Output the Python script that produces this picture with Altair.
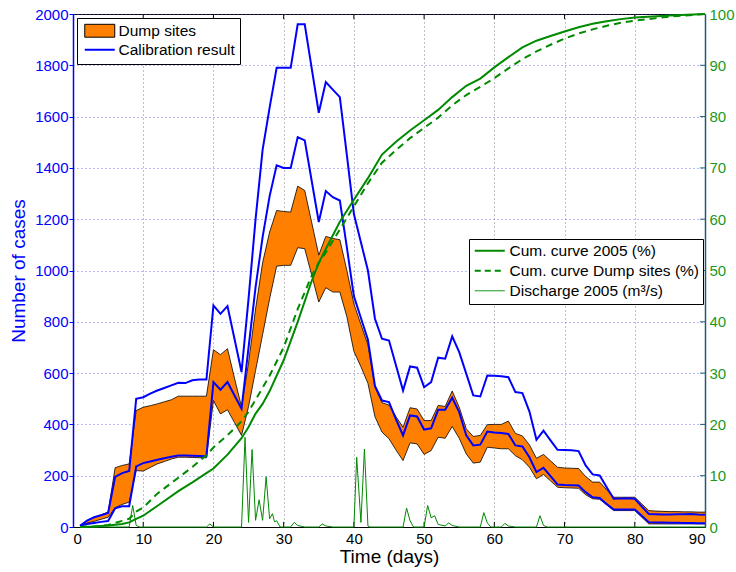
import altair as alt
import pandas as pd

# ---- daily case counts ----------------------------------------------------
days = list(range(1, 91))

calib_upper = [5, 25, 38, 46, 55, 195, 210, 218, 500, 506,
               520, 532, 542, 552, 562, 561, 572, 575, 575, 864,
               831, 861, 733, 604, 890, 1200, 1470, 1635, 1790, 1790,
               1790, 1960, 1960, 1787, 1615, 1735, 1705, 1676, 1450, 1220,
               1110, 1000, 812, 734, 727, 630, 532, 626, 621, 545,
               565, 660, 656, 743, 682, 598, 513, 509, 591, 590,
               588, 584, 526, 522, 450, 340, 376, 338, 301, 300,
               299, 296, 240, 205, 201, 155, 110, 111, 112, 110,
               80, 51, 50, 49, 49, 50, 50, 51, 49, 48]

calib_lower = [5, 12, 16, 20, 23, 73, 81, 81, 236, 249,
               255, 262, 268, 274, 279, 279, 278, 277, 276, 565,
               535, 565, 513, 461, 700, 935, 1130, 1290, 1410, 1400,
               1400, 1520, 1507, 1348, 1189, 1310, 1286, 1273, 1090, 900,
               815, 730, 550, 493, 487, 420, 357, 435, 431, 380,
               385, 457, 457, 504, 448, 357, 318, 321, 372, 368,
               366, 363, 318, 314, 272, 214, 231, 198, 166, 164,
               163, 162, 136, 116, 113, 90, 68, 68, 68, 68,
               44, 19, 18, 18, 17, 17, 16, 16, 15, 15]

dump_upper = [5, 25, 38, 48, 58, 231, 240, 246, 454, 467,
              473, 480, 488, 496, 510, 510, 510, 510, 510, 691,
              672, 695, 580, 468, 640, 850, 1030, 1150, 1234, 1230,
              1228, 1329, 1312, 1186, 1060, 1133, 1125, 1120, 1000, 870,
              790, 710, 545, 485, 475, 430, 389, 465, 460, 415,
              415, 474, 470, 530, 467, 383, 353, 357, 399, 400,
              400, 413, 365, 355, 320, 268, 283, 258, 233, 230,
              229, 228, 197, 175, 175, 145, 116, 116, 116, 116,
              90, 64, 62, 61, 60, 60, 59, 59, 58, 58]

dump_lower = [5, 15, 22, 30, 38, 75, 88, 97, 220, 218,
              232, 246, 255, 265, 272, 272, 271, 270, 270, 493,
              441, 457, 407, 357, 470, 610, 750, 890, 1017, 1020,
              1020, 1089, 1085, 981, 877, 933, 916, 916, 820, 685,
              625, 560, 430, 370, 344, 300, 259, 328, 324, 283,
              298, 350, 346, 392, 346, 285, 249, 253, 311, 308,
              305, 305, 278, 262, 233, 188, 205, 180, 155, 153,
              152, 151, 126, 110, 108, 86, 64, 64, 64, 64,
              38, 12, 12, 12, 12, 12, 12, 12, 12, 12]

# ---- cumulative curves (%) --------------------------------------------------
cum05_days = [1, 3, 5, 7, 8, 9, 10, 12, 15, 17, 19, 20, 22, 24, 25, 26, 27, 28,
              30, 32, 34, 35, 36, 38, 40, 42, 44, 46, 48, 50, 52, 54, 56, 58,
              60, 62, 64, 66, 68, 70, 72, 74, 76, 78, 80, 85, 90]
cum05_pct = [0, 0.1, 0.3, 0.6, 0.9, 1.6, 2.2, 4.1, 7.0, 8.7, 10.5, 11.4, 14.1,
             17.3, 19.5, 22.1, 24.0, 26.5, 32.5, 40.0, 48.0, 51.5, 54.2, 59.5,
             63.8, 68.0, 72.6, 75.1, 77.3, 79.3, 81.3, 83.8, 86.0, 87.4, 89.6,
             91.6, 93.5, 94.8, 95.7, 96.6, 97.4, 98.1, 98.6, 99.0, 99.3, 99.7, 100]

cumdump_days = [1, 3, 5, 6, 7, 8, 9, 10, 12, 15, 17, 19, 20, 22, 24, 25, 26, 28,
                30, 32, 34, 35, 36, 38, 40, 42, 44, 46, 48, 50, 52, 54, 56, 58,
                60, 62, 64, 66, 68, 70, 72, 74, 76, 78, 80, 85, 90]
cumdump_pct = [0, 0.1, 0.4, 0.8, 1.2, 1.6, 3.0, 3.8, 6.5, 9.6, 11.7, 14.0, 15.5,
               17.9, 20.6, 22.5, 24.8, 29.5, 35.0, 42.5, 49.0, 51.5, 53.5, 58.0,
               62.5, 67.0, 71.0, 73.5, 75.8, 77.8, 79.8, 82.2, 84.2, 85.8, 87.5,
               89.4, 91.2, 92.7, 94.0, 95.2, 96.2, 97.0, 97.7, 98.3, 98.7, 99.5, 100]

# ---- river discharge (m3/s) -------------------------------------------------
q_days = [1, 8, 8.5, 9, 9.5, 19, 19.5, 20, 24, 24.5, 25, 25.5, 26, 26.5, 27,
          27.5, 28, 28.4, 28.7, 29, 29.5, 31, 31.5, 32, 33, 35, 35.5, 36, 37,
          40, 40.4, 41, 41.5, 42, 42.3, 47, 47.5, 48, 48.5, 50, 50.5, 51,
          51.5, 52, 53, 53.5, 54, 55, 58, 58.5, 59, 59.5, 61, 61.5, 62, 63,
          66, 66.5, 67, 67.5, 90]
q_vals = [0, 0, 4.2, 0.3, 0, 0, 0.6, 0, 0, 17.5, 0.9, 15.1, 1.3, 5.3, 1.3,
          9.8, 1.6, 2.6, 1.0, 1.2, 0, 0, 0.9, 0.3, 0, 0, 0.6, 0.2, 0,
          0, 13.6, 0.9, 15.2, 0.2, 0, 0, 3.7, 1.2, 0, 0, 4.2, 1.8,
          2.2, 0.5, 0.2, 0.8, 0.3, 0, 0, 2.8, 0.8, 0, 0, 0.7, 0.2, 0,
          0, 2.2, 0.3, 0, 0]

x_ticks = [10, 20, 30, 40, 50, 60, 70, 80]
pct_ticks = [10, 20, 30, 40, 50, 60, 70, 80, 90]

left_names = ["Dump sites", "Calibration result"]
right_names = ["Cum. curve 2005 (%)", "Cum. curve Dump sites (%)",
               "Discharge 2005 (m³/s)"]

FONT = "Liberation Sans"
BLUE = "#0000ff"
ORANGE = "#ff8000"
GREEN = "#008a00"
GREEN_TXT = "#1a9a1a"
TEAL = "#1f5c73"

# ---- tables -----------------------------------------------------------------
band = pd.DataFrame({"day": days, "hi": dump_upper, "lo": dump_lower})
edges = pd.DataFrame({"day": days + days,
                      "cases": dump_upper + dump_lower,
                      "edge": ["upper"] * 90 + ["lower"] * 90})
calib = pd.DataFrame({"day": days + days,
                      "cases": calib_upper + calib_lower,
                      "bound": ["upper"] * 90 + ["lower"] * 90})
cum05 = pd.DataFrame({"day": cum05_days, "pct": cum05_pct})
cumdump = pd.DataFrame({"day": cumdump_days, "pct": cumdump_pct})
flow = pd.DataFrame({"day": q_days, "pct": q_vals})
xt = pd.DataFrame({"d": x_ticks, "a": 0, "b": 20, "c": 2000, "e": 1980})
pt = pd.DataFrame({"v": pct_ticks, "a": 89.3, "b": 90})
# legend keys only: no rows, the legends come from the colour scale domains
key_left = pd.DataFrame({"day": pd.Series([], dtype=float),
                         "cases": pd.Series([], dtype=float),
                         "series": pd.Series([], dtype=str)})
key_right = pd.DataFrame({"day": pd.Series([], dtype=float),
                          "pct": pd.Series([], dtype=float),
                          "series": pd.Series([], dtype=str)})

# ---- scales / axes ------------------------------------------------------------
x_axis = alt.Axis(values=list(range(0, 91, 10)), title="Time (days)",
                  labelFont=FONT, labelFontSize=15, labelColor="black",
                  labelPadding=4, titleFont=FONT, titleFontSize=19,
                  titleFontWeight="normal", titleColor="black", titlePadding=1,
                  ticks=False, domainColor="black", domainWidth=1,
                  grid=True, gridColor="#808080", gridDash=[1, 3], gridWidth=1)
x_scale = alt.Scale(domain=[0, 90], nice=False, zero=False)

def X(field):
    return alt.X(field, type="quantitative", scale=x_scale, axis=x_axis)

left_axis = alt.Axis(values=list(range(0, 2001, 200)), format="d",
                     title="Number of cases", labelFont=FONT, labelFontSize=15,
                     labelColor=BLUE, labelPadding=1, titleFont=FONT,
                     titleFontSize=19, titleFontWeight="normal", titleColor=BLUE,
                     titlePadding=6, ticks=True, tickSize=4, tickColor=BLUE,
                     domainColor=BLUE, domainWidth=1.5, grid=True,
                     gridColor="#4a4aff", gridOpacity=0.75, gridDash=[1, 3],
                     gridWidth=1)
left_scale = alt.Scale(domain=[0, 2000], nice=False)

def YL(field):
    return alt.Y(field, type="quantitative", scale=left_scale, axis=left_axis)

right_axis = alt.Axis(values=list(range(0, 101, 10)), orient="right",
                      title=None, labelFont=FONT, labelFontSize=15,
                      labelColor=GREEN_TXT, labelPadding=4, ticks=False,
                      domainColor=TEAL, domainWidth=1.5, grid=False)
right_scale = alt.Scale(domain=[0, 100], nice=False)

def YR(field):
    return alt.Y(field, type="quantitative", scale=right_scale, axis=right_axis)

RECT = "M-1,-0.43H1V0.43H-1Z"
DASH = "M-1,0H1"

legend_left = alt.Legend(
    orient="none", legendX=4, legendY=4, title=None,
    strokeColor="black", fillColor="white", padding=5,
    labelFont=FONT, labelFontSize=15.5, labelColor="black",
    labelOffset=11, symbolOffset=10, labelLimit=300,
    symbolSize=900, symbolOpacity=1, rowPadding=2,
    symbolType={"expr": f"datum.value === 'Dump sites' ? '{RECT}' : '{DASH}'"},
    symbolStrokeColor={"expr": "datum.value === 'Dump sites' ? '#000000' : '#0000ff'"},
    symbolStrokeWidth={"expr": "datum.value === 'Dump sites' ? 1 : 2"},
)

legend_right = alt.Legend(
    orient="none", legendX=396, legendY=225, title=None,
    strokeColor="black", fillColor="white", padding=4,
    labelFont=FONT, labelFontSize=15.5, labelColor="black",
    labelOffset=12, symbolOffset=9, labelLimit=300,
    symbolSize=900, symbolOpacity=1, symbolType=DASH, rowPadding=3,
    symbolStrokeWidth={"expr": "datum.value === 'Discharge 2005 (m³/s)' ? 1 : 2"},
    symbolDash={"expr": "datum.value === 'Cum. curve Dump sites (%)' ? [6, 4] : [1, 0]"},
)

# ---- left (cases) layers --------------------------------------------------------
area = alt.Chart(band).mark_area(color=ORANGE, opacity=1).encode(
    x=X("day"), y=YL("hi"), y2="lo")

edge_lines = alt.Chart(edges).mark_line(color="black", strokeWidth=0.8).encode(
    x=X("day"), y=YL("cases"), detail="edge:N")

lines = alt.Chart(calib).mark_line(color=BLUE, strokeWidth=2).encode(
    x=X("day"), y=YL("cases"), detail="bound:N")

key_l = alt.Chart(key_left).mark_point(filled=True).encode(
    x=X("day"), y=YL("cases"),
    color=alt.Color("series:N",
                    scale=alt.Scale(domain=left_names, range=[ORANGE, BLUE]),
                    legend=legend_left))

tick_bottom = alt.Chart(xt).mark_rule(color="black", strokeWidth=1).encode(
    x=X("d"), y=YL("a"), y2="b")
tick_top = alt.Chart(xt).mark_rule(color="black", strokeWidth=1).encode(
    x=X("d"), y=YL("c"), y2="e")

left = alt.layer(area, edge_lines, lines, key_l, tick_bottom, tick_top)

# ---- right (percent / discharge) layers --------------------------------------
cum_solid = alt.Chart(cum05).mark_line(color=GREEN, strokeWidth=2).encode(
    x=X("day"), y=YR("pct"))
cum_dash = alt.Chart(cumdump).mark_line(color=GREEN, strokeWidth=2,
                                        strokeDash=[7, 5]).encode(
    x=X("day"), y=YR("pct"))
discharge = alt.Chart(flow).mark_line(color=GREEN, strokeWidth=1).encode(
    x=X("day"), y=YR("pct"))
key_r = alt.Chart(key_right).mark_point().encode(
    x=X("day"), y=YR("pct"),
    color=alt.Color("series:N",
                    scale=alt.Scale(domain=right_names,
                                    range=[GREEN, GREEN, GREEN]),
                    legend=legend_right))
tick_right = alt.Chart(pt).mark_rule(color=TEAL, strokeWidth=1).encode(
    x=X("a"), x2="b", y=YR("v"))

right = alt.layer(discharge, cum_solid, cum_dash, key_r, tick_right)

chart = alt.layer(left, right).resolve_scale(
    y="independent", color="independent"
).properties(
    width=632, height=513,
    autosize=alt.AutoSizeParams(type="none"),
    padding={"left": 73, "top": 14, "right": 31, "bottom": 45},
).configure_view(stroke="black", strokeWidth=1)

chart.save("out.html", embed_options={"renderer": "svg", "actions": False})
